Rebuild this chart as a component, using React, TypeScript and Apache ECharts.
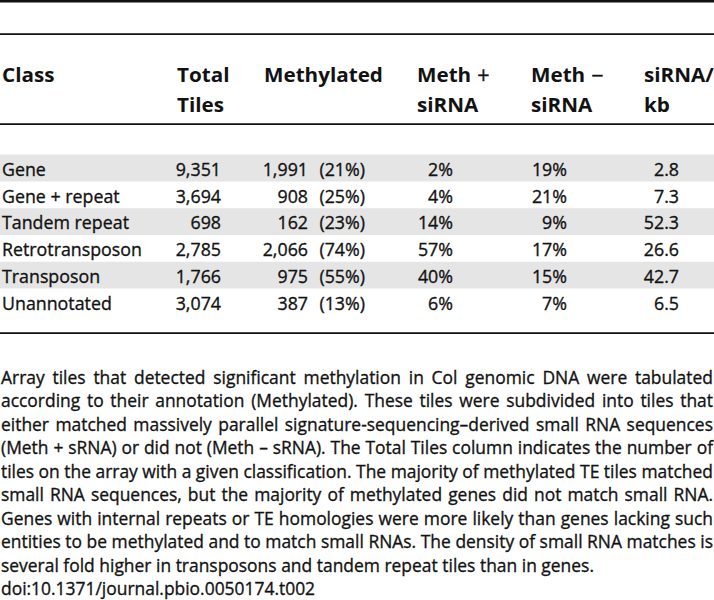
import React, { useEffect, useRef } from "react";
import * as echarts from "echarts";

// ---- data ----
const headerLine1 = ["Class", "Total", "Methylated", "Meth", "Meth", "siRNA/"];
const headerLine2 = ["", "Tiles", "", "siRNA", "siRNA", "kb"];
const headerSymbols = ["", "", "", "+", "−", ""];
const classes = ["Gene", "Gene + repeat", "Tandem repeat", "Retrotransposon", "Transposon", "Unannotated"];
const totalTiles = [9351, 3694, 698, 2785, 1766, 3074];
const methylated = [1991, 908, 162, 2066, 975, 387];
const methylatedPct = [21, 25, 23, 74, 55, 13];
const methPlusSirna = [2, 4, 14, 57, 40, 6];
const methMinusSirna = [19, 21, 9, 17, 15, 7];
const sirnaPerKb = [2.8, 7.3, 52.3, 26.6, 42.7, 6.5];
const captionLines = [
  "Array tiles that detected significant methylation in Col genomic DNA were tabulated",
  "according to their annotation (Methylated). These tiles were subdivided into tiles that",
  "either matched massively parallel signature-sequencing–derived small RNA sequences",
  "(Meth + sRNA) or did not (Meth – sRNA). The Total Tiles column indicates the number of",
  "tiles on the array with a given classification. The majority of methylated TE tiles matched",
  "small RNA sequences, but the majority of methylated genes did not match small RNA.",
  "Genes with internal repeats or TE homologies were more likely than genes lacking such",
  "entities to be methylated and to match small RNAs. The density of small RNA matches is",
  "several fold higher in transposons and tandem repeat tiles than in genes.",
  "doi:10.1371/journal.pbio.0050174.t002",
];
const justifiedCount = 8;

const FONT = '"Open Sans", "Noto Sans", sans-serif';
const INK = "#121212";

export default function App() {
  const ref = useRef<HTMLDivElement>(null);
  useEffect(() => {
    document.body.style.margin = "0";
    const chart = echarts.init(ref.current!, null, { renderer: "svg" });
    const ctx = document.createElement("canvas").getContext("2d")!;
    const measure = (t: string, size: number, weight = "normal") => {
      ctx.font = `${weight} ${size}px ${FONT}`;
      return ctx.measureText(t).width;
    };
    const SIZE = 19;
    const sx = 140 / measure("Retrotransposon", SIZE);
    const sxB = 119 / measure("Methylated", SIZE, "bold");
    const sxC = 593 / measure(captionLines[8], SIZE);

    const els: any[] = [];
    const txt = (text: string, x: number, y: number, align: string, opts: any = {}) => {
      els.push({
        type: "text",
        x,
        y,
        scaleX: opts.sx || (opts.bold ? sxB : sx),
        style: {
          text,
          font: `${opts.bold ? "bold" : "normal"} ${opts.size || SIZE}px ${FONT}`,
          fill: INK,
          stroke: opts.bold ? undefined : INK,
          lineWidth: opts.bold ? 0 : 0.35,
          align,
          verticalAlign: "middle",
        },
      });
    };

    // rules
    const rule = (y: number, h: number) =>
      els.push({ type: "rect", shape: { x: 0, y, width: 714, height: h }, style: { fill: "#111" } });
    rule(0, 2.5);
    rule(33.3, 1.6);
    rule(123.3, 1.8);
    rule(332.3, 1.8);

    // row bands
    const rowTop = 154.6;
    const rowH = 26.8;
    classes.forEach((_, i) => {
      if (i % 2 === 0)
        els.push({
          type: "rect",
          shape: { x: 0, y: rowTop + i * rowH, width: 714, height: rowH },
          style: { fill: "#e5e5e5" },
        });
    });

    // header
    const headX = [2, 177, 264, 417, 531, 644];
    headerLine1.forEach((h, i) => {
      txt(h, headX[i], 75, "left", { bold: true });
      if (headerLine2[i]) txt(headerLine2[i], headX[i], 105, "left", { bold: true });
      if (headerSymbols[i]) {
        const w = measure(h, SIZE, "bold") * sxB;
        txt(headerSymbols[i], headX[i] + w + 6, 75, "left", { size: 23 });
      }
    });

    // body
    const fmt = (n: number) => n.toLocaleString("en-US");
    classes.forEach((c, i) => {
      const y = rowTop + i * rowH + rowH / 2;
      txt(c, 2, y, "left");
      txt(fmt(totalTiles[i]), 221, y, "right");
      txt(fmt(methylated[i]), 308, y, "right");
      txt(`(${methylatedPct[i]}%)`, 365, y, "right");
      txt(`${methPlusSirna[i]}%`, 453, y, "right");
      txt(`${methMinusSirna[i]}%`, 567, y, "right");
      txt(sirnaPerKb[i].toFixed(1), 679, y, "right");
    });

    // caption
    const capTop = 376.5;
    const capStep = 23.5;
    const spaceW = measure(" ", SIZE) * sxC;
    captionLines.forEach((line, li) => {
      const y = capTop + li * capStep;
      const words = line.split(" ");
      const widths = words.map((w) => measure(w, SIZE) * sxC);
      const total = widths.reduce((a, b) => a + b, 0);
      const gap = li < justifiedCount && words.length > 1 ? (713 - 1 - total) / (words.length - 1) : spaceW;
      let x = 1;
      words.forEach((w, wi) => {
        txt(w, x, y, "left", { sx: sxC });
        x += widths[wi] + gap;
      });
    });

    chart.setOption({ animation: false, graphic: { elements: els } });
    return () => chart.dispose();
  }, []);
  return <div ref={ref} style={{ width: 714, height: 600, background: "#fff" }} />;
}
